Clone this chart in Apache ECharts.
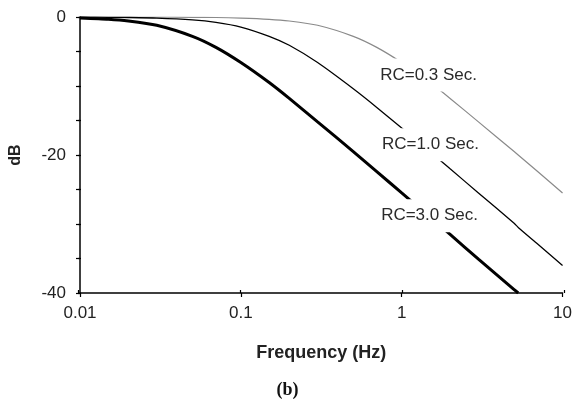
<!DOCTYPE html>
<html><head><meta charset="utf-8">
<script src="https://cdn.jsdelivr.net/npm/echarts@6/dist/echarts.min.js"></script>
<style>html,body{margin:0;padding:0;background:#fff}#c{width:575px;height:401px}</style>
</head><body><div id="c"></div>
<script>
// Frequency (Hz)
const freq = [0.01,0.015,0.02,0.03,0.05,0.07,0.1,0.15,0.2,0.3,0.5,0.7,1,1.5,2,3,5,5.3,7,10];
// Magnitude (dB) for each RC value
const rc03 = [0,0,0,-0.01,-0.04,-0.07,-0.15,-0.33,-0.58,-1.2,-2.8,-4.4,-6.6,-9.5,-11.8,-15.2,-19.5,-20.0,-22.4,-25.5];
const rc10 = [-0.02,-0.04,-0.07,-0.15,-0.41,-0.77,-1.45,-2.8,-4.1,-6.6,-10.4,-13.1,-16.1,-19.5,-22.0,-25.5,-29.9,-30.5,-32.9,-36.0];
const rc30 = [-0.15,-0.33,-0.58,-1.2,-2.8,-4.4,-6.6,-9.5,-11.8,-15.2,-19.5,-22.4,-25.5,-29.0,-31.5,-35.1,-39.5,-40.0,null,null];
const seriesNames = ['RC=0.3 Sec.','RC=1.0 Sec.','RC=3.0 Sec.'];
// label anchor points [Hz, dB]
const labelAt = [[1.47,-8.4],[1.51,-18.5],[1.49,-28.8]];
const xTickLabels = {'-2':'0.01','-1':'0.1','0':'1','1':'10'};

const FONT = "Arial, 'Liberation Sans', sans-serif";
const chart = echarts.init(document.getElementById('c'), null, {renderer:'canvas'});
const pairs = arr => freq.map((f,i)=>arr[i]===null?null:[f,arr[i]]).filter(d=>d);
const gridRect = {left:78, right:11, top:17, bottom:108, containLabel:false};

function lineSeries(name, data, color, width, idx){
  return {
    name, type:'line', data: pairs(data), xAxisIndex:0, yAxisIndex:0,
    showSymbol:false, smooth:0.2, clip:true,
    lineStyle:{color, width}, z:2,
    markPoint:{
      symbolSize:0, z:5,
      data:[{coord:labelAt[idx], value:name}],
      label:{show:true, formatter:name, position:'inside', color:'#2a2a2a', fontSize:17, fontFamily:FONT,
        backgroundColor:'#fff', padding:[9,1,7,1]}
    }
  };
}

chart.setOption({
  animation:false,
  backgroundColor:'#fff',
  grid:[Object.assign({}, gridRect), Object.assign({}, gridRect)],
  xAxis:[{
    gridIndex:0, type:'log', logBase:10, min:0.01, max:10, position:'bottom',
    axisLine:{show:true, onZero:false, lineStyle:{color:'#000', width:1.5}},
    axisTick:{show:true, inside:false, length:4, lineStyle:{color:'#000', width:1.2}},
    minorTick:{show:false}, splitLine:{show:false},
    axisLabel:{color:'#222', fontSize:17, fontFamily:FONT, margin:12,
      formatter:v=>xTickLabels[String(Math.round(Math.log10(v)))]||''},
    name:'Frequency (Hz)', nameLocation:'middle', nameGap:51,
    nameTextStyle:{color:'#222', fontSize:18, fontWeight:'bold', fontFamily:FONT}
  },{
    gridIndex:1, type:'log', logBase:10, min:0.01, max:10, position:'bottom',
    axisLine:{show:false, onZero:false},
    axisTick:{show:true, inside:true, length:3, lineStyle:{color:'#000', width:1.2}},
    axisLabel:{show:false}, splitLine:{show:false}
  }],
  yAxis:[{
    gridIndex:0, type:'value', min:-40, max:0, interval:5, position:'left',
    axisLine:{show:true, onZero:false, lineStyle:{color:'#000', width:1.5}},
    axisTick:{show:true, inside:false, length:4, lineStyle:{color:'#000', width:1.2}},
    splitLine:{show:false},
    axisLabel:{color:'#222', fontSize:17, fontFamily:FONT, margin:14,
      formatter:v=> (v%20===0? String(v):'')},
    name:'dB', nameLocation:'middle', nameGap:56, nameRotate:90,
    nameTextStyle:{color:'#222', fontSize:16, fontWeight:'bold', fontFamily:FONT}
  },{
    gridIndex:1, type:'value', min:-40, max:0, interval:5, position:'left',
    axisLine:{show:false, onZero:false},
    axisTick:{show:true, inside:true, length:3, lineStyle:{color:'#000', width:1.2}},
    axisLabel:{show:false}, splitLine:{show:false}
  }],
  series:[
    lineSeries(seriesNames[0], rc03, '#8a8a8a', 1.2, 0),
    lineSeries(seriesNames[1], rc10, '#000', 1.3, 1),
    lineSeries(seriesNames[2], rc30, '#000', 3, 2)
  ],
  graphic:[{
    type:'text', left:'center', top:381,
    style:{text:'(b)', fill:'#111', font:"bold 18px 'Liberation Serif', 'Times New Roman', serif"}
  }]
});
</script></body></html>
